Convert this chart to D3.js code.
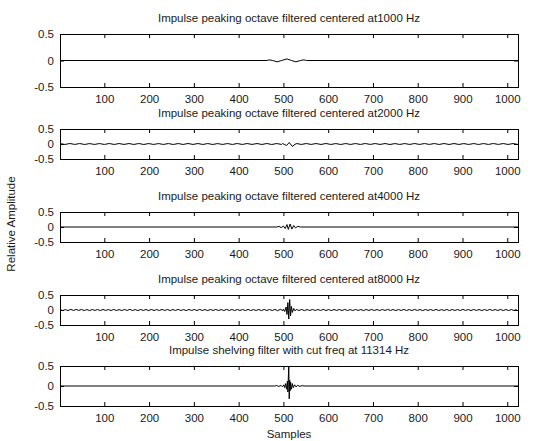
<!DOCTYPE html>
<meta charset="utf-8">
<style>
    body { margin: 0; background: #fff; }
    text {
        font-family: "Liberation Sans", Arial, sans-serif;
        font-size: 11.5px;
        fill: #1a1a1a;
    }
    .box { fill: none; stroke: #000; stroke-width: 1; }
    .sig { fill: none; stroke: #000; stroke-width: 1; }
    .axis line { stroke: #000; }
    .axis path { display: none; }
</style>

<svg width="534" height="441"></svg>

<script src="https://cdn.jsdelivr.net/npm/d3@7/dist/d3.min.js"></script>
<script>

    // DATA

    var titles = [
        "Impulse peaking octave filtered centered at1000 Hz",
        "Impulse peaking octave filtered centered at2000 Hz",
        "Impulse peaking octave filtered centered at4000 Hz",
        "Impulse peaking octave filtered centered at8000 Hz",
        "Impulse shelving filter with cut freq at 11314 Hz"
    ];
    var xTicks = [100, 200, 300, 400, 500, 600, 700, 800, 900, 1000];
    var yTicks = [-0.5, 0, 0.5];
    var yTickLabels = ["-0.5", "0", "0.5"];
    var nSamples = 1024;

    // burst around the impulse, [sample, value]
    var burst1 = [[463, 0], [468, 0.012], [476, 0], [486, -0.025], [496, 0], [508, 0.03],
        [518, 0], [528, -0.025], [538, 0], [546, 0.012], [552, 0]];
    var burst2 = [[498, 0.015], [503, -0.02], [507, -0.05], [513, 0.05], [520, -0.08], [526, -0.01], [530, 0.015]];
    var burst3 = [[485, 0], [490, 0.02], [495, -0.02], [500, 0.03], [504, -0.05], [508, 0.08], [511, -0.08],
        [515, 0.1], [519, -0.07], [523, 0.05], [527, -0.03], [532, 0.02], [538, 0]];
    var burst4 = [[500, 0.03], [503, -0.05], [506, 0.1], [508, -0.15], [510, 0.25], [512, -0.3], [514, 0.35],
        [516, -0.2], [518, 0.12], [520, -0.08], [523, 0.05], [526, -0.03]];
    var burst5 = [[480, 0], [485, 0.01], [490, -0.01], [495, 0.015], [498, -0.02], [501, 0.03], [503, -0.04],
        [505, 0.06], [507, -0.08], [509, 0.12], [510, -0.15], [511, 0.2], [512, 0.5], [513, -0.32],
        [514, 0.15], [515, -0.12], [516, 0.1], [518, -0.08], [520, 0.06], [522, -0.04], [525, 0.03],
        [528, -0.02], [532, 0.015], [537, -0.01], [542, 0.01], [546, 0]];

    // low level ripple, one value every 11 samples (2000 Hz) from sample 1
    var ripple2 = [0.015, -0.015, 0.016, -0.014, 0.015, -0.016, 0.014, -0.015, 0.015, -0.015,
        0.016, -0.015, 0.015, -0.014, 0.015, -0.015, 0.016, -0.016, 0.015, -0.015,
        0.014, -0.015, 0.015, -0.016, 0.015, -0.015, 0.016, -0.014, 0.015, -0.015,
        0.015, -0.016, 0.014, -0.015, 0.015, -0.015, 0.016, -0.015, 0.015, -0.014,
        0.015, -0.015, 0.016, -0.016, 0.015, -0.015, 0.015, -0.015, 0.016, -0.015,
        0.015, -0.014, 0.015, -0.015, 0.016, -0.015, 0.014, -0.016, 0.015, -0.015,
        0.015, -0.015, 0.016, -0.014, 0.015, -0.015, 0.015, -0.016, 0.014, -0.015,
        0.015, -0.015, 0.016, -0.015, 0.015, -0.014, 0.015, -0.015, 0.016, -0.016,
        0.015, -0.015, 0.014, -0.015, 0.015, -0.016, 0.015, -0.015, 0.016, -0.014,
        0.015, -0.015, 0.015, -0.015];
    // fuzz, one value every 6 samples (8000 Hz) from sample 1
    var fuzz4 = [0.016, -0.02, 0.014, -0.018, 0.021, -0.016, 0.018, -0.014, 0.02, -0.019,
        0.015, -0.021, 0.018, -0.016, 0.017, -0.02, 0.019, -0.015, 0.016, -0.018,
        0.02, -0.017, 0.014, -0.019, 0.018, -0.016, 0.021, -0.018, 0.016, -0.02,
        0.018, -0.015, 0.017, -0.021, 0.019, -0.016, 0.015, -0.018, 0.02, -0.017,
        0.018, -0.019, 0.016, -0.016, 0.021, -0.018, 0.014, -0.02, 0.018, -0.015,
        0.017, -0.019, 0.02, -0.017, 0.016, -0.021, 0.018, -0.016, 0.019, -0.018,
        0.015, -0.018, 0.021, -0.016, 0.017, -0.02, 0.018, -0.015, 0.016, -0.019,
        0.02, -0.018, 0.014, -0.017, 0.019, -0.021, 0.018, -0.016, 0.016, -0.018,
        0.021, -0.024, 0.022, -0.02, 0.019, -0.018, 0.016, -0.019, 0.02, -0.016,
        0.018, -0.021, 0.015, -0.017, 0.019, -0.018, 0.017, -0.016, 0.021, -0.018,
        0.016, -0.02, 0.018, -0.015, 0.018, -0.019, 0.02, -0.017, 0.014, -0.018,
        0.019, -0.016, 0.017, -0.021, 0.018, -0.016, 0.02, -0.018, 0.016, -0.019,
        0.018, -0.015, 0.021, -0.017, 0.016, -0.02, 0.018, -0.016, 0.019, -0.018,
        0.015, -0.018, 0.02, -0.016, 0.017, -0.021, 0.018, -0.015, 0.016, -0.019,
        0.021, -0.018, 0.014, -0.017, 0.019, -0.02, 0.018, -0.016, 0.016, -0.018,
        0.02, -0.016, 0.017, -0.019, 0.018, -0.015, 0.016, -0.02, 0.018, -0.017,
        0.019, -0.016, 0.015, -0.018, 0.02, -0.018, 0.016, -0.019, 0.017, -0.016,
        0.016];

    // SETUP

    var svg = d3.select("svg");
    var left = 60, right = 518;
    var panels = [
        { top: 34, bottom: 87 },
        { top: 129, bottom: 159 },
        { top: 212, bottom: 242 },
        { top: 295, bottom: 325 },
        { top: 366, bottom: 406 }
    ];

    svg.append("rect").attr("width", 534).attr("height", 441).attr("fill", "#fff");

    var x = d3.scaleLinear().domain([1, nSamples]).range([left, right]);

    // join a ripple (fixed step) with the burst, burst wins in its window
    function series(ripple, step, burst) {
        var lo = burst[0][0], hi = burst[burst.length - 1][0];
        var pts = [];
        if (ripple) {
            ripple.forEach(function (v, i) {
                var s = 1 + i * step;
                if (s < lo || s > hi) pts.push([s, v]);
            });
        } else {
            pts.push([1, 0], [nSamples, 0]);
        }
        pts = pts.concat(burst);
        pts.sort(function (a, b) { return a[0] - b[0]; });
        return pts;
    }

    var signals = [
        series(null, 0, burst1),
        series(ripple2, 11, burst2),
        series(null, 0, burst3),
        series(fuzz4, 6, burst4),
        series(null, 0, burst5)
    ];

    // DRAWING

    panels.forEach(function (p, k) {
        var y = d3.scaleLinear().domain([-0.5, 0.5]).range([p.bottom, p.top]);
        var g = svg.append("g");

        g.append("clipPath").attr("id", "clip" + k)
            .append("rect")
            .attr("x", left).attr("y", p.top)
            .attr("width", right - left).attr("height", p.bottom - p.top);

        var line = d3.line()
            .x(function (d) { return x(d[0]); })
            .y(function (d) { return y(d[1]); });

        g.append("path")
            .datum(signals[k])
            .attr("class", "sig")
            .attr("clip-path", "url(#clip" + k + ")")
            .attr("d", line);

        g.append("g")
            .attr("class", "axis")
            .attr("transform", "translate(0," + p.bottom + ")")
            .call(d3.axisBottom(x).tickValues(xTicks).tickSizeInner(-4).tickSizeOuter(0).tickPadding(8)
                .tickFormat(d3.format("d")))
            .call(function (a) { a.selectAll("text").attr("fill", "#1a1a1a"); });

        g.append("g")
            .attr("class", "axis")
            .attr("transform", "translate(0," + p.top + ")")
            .call(d3.axisTop(x).tickValues(xTicks).tickSizeInner(-4).tickSizeOuter(0).tickFormat(""));

        g.append("g")
            .attr("class", "axis")
            .attr("transform", "translate(" + left + ",0)")
            .call(d3.axisLeft(y).tickValues(yTicks).tickSizeInner(-4).tickSizeOuter(0).tickPadding(6)
                .tickFormat(function (d, i) { return yTickLabels[i]; }))
            .call(function (a) { a.selectAll("text").attr("fill", "#1a1a1a"); });

        g.append("g")
            .attr("class", "axis")
            .attr("transform", "translate(" + right + ",0)")
            .call(d3.axisRight(y).tickValues(yTicks).tickSizeInner(-4).tickSizeOuter(0).tickFormat(""));

        g.append("rect")
            .attr("class", "box")
            .attr("x", left + 0.5).attr("y", p.top + 0.5)
            .attr("width", right - left).attr("height", p.bottom - p.top);

        g.append("text")
            .attr("x", (left + right) / 2)
            .attr("y", p.top - 12)
            .attr("text-anchor", "middle")
            .text(titles[k]);
    });

    svg.append("text")
        .attr("x", (left + right) / 2)
        .attr("y", 438)
        .attr("text-anchor", "middle")
        .text("Samples");

    svg.append("text")
        .attr("transform", "translate(15,224) rotate(-90)")
        .attr("text-anchor", "middle")
        .text("Relative Amplitude");

</script>
